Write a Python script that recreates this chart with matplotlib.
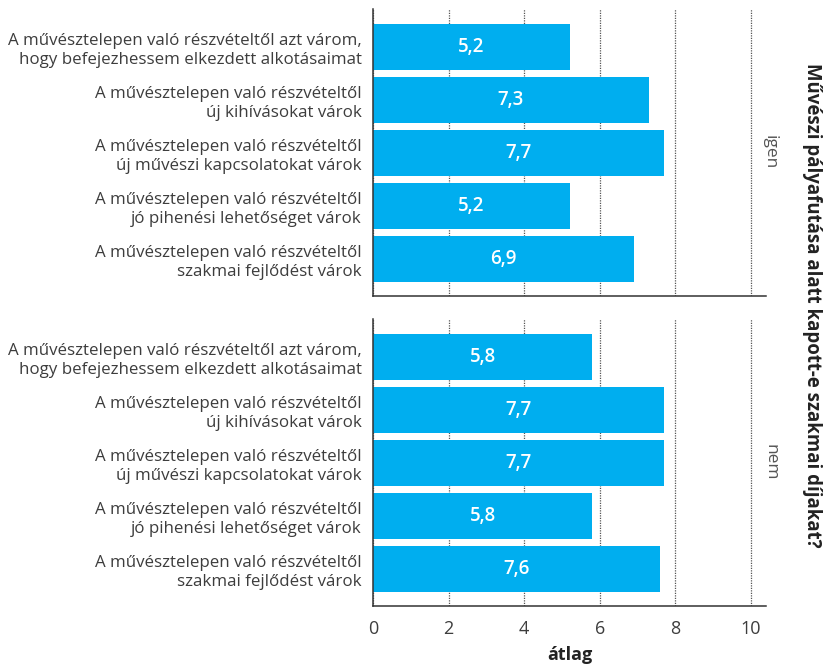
import matplotlib
matplotlib.use("Agg")
import matplotlib.pyplot as plt

categories = [
    "A művésztelepen való részvételtől azt várom,\nhogy befejezhessem elkezdett alkotásaimat",
    "A művésztelepen való részvételtől\núj kihívásokat várok",
    "A művésztelepen való részvételtől\núj művészi kapcsolatokat várok",
    "A művésztelepen való részvételtől\njó pihenési lehetőséget várok",
    "A művésztelepen való részvételtől\nszakmai fejlődést várok",
]
groups = ["igen", "nem"]
values_igen = [5.2, 7.3, 7.7, 5.2, 6.9]
values_nem = [5.8, 7.7, 7.7, 5.8, 7.6]
xticks = [0, 2, 4, 6, 8, 10]
xlabel = "átlag"
strip_title = "Művészi pályafutása alatt kapott-e szakmai díjakat?"

plt.rcParams['font.family'] = ['Open Sans', 'DejaVu Sans']
BAR = '#00AEEF'
TXT = '#3d3d3d'

W, H = 823, 666
fig = plt.figure(figsize=(W / 100, H / 100), dpi=100)

def rect(l, r, t, b):
    return [l / W, 1 - b / H, (r - l) / W, (b - t) / H]

panels = [(values_igen, 9, 296), (values_nem, 319, 606)]
axes = []
for i, (vals, top, bot) in enumerate(panels):
    ax = fig.add_axes(rect(373, 766, top, bot))
    ypos = list(range(len(categories)))
    ax.set_axisbelow(True)
    ax.xaxis.grid(True, linestyle=(0, (1, 1)), color='#555555', linewidth=0.9)
    ax.barh(ypos, vals, height=0.87, color=BAR, zorder=2)
    for y, v in zip(ypos, vals):
        ax.text(v / 2, y, f"{v:.1f}".replace('.', ','), ha='center', va='center',
                color='white', fontsize=13.5, fontweight='semibold', zorder=3)
    ax.set_xlim(0, 10.4)
    ax.set_ylim(len(categories) - 0.3, -0.72)
    ax.set_yticks(ypos)
    ax.set_yticklabels(categories, fontsize=12.2, color=TXT, ha='right',
                       multialignment='right', linespacing=1.22)
    ax.tick_params(axis='y', length=0, pad=8)
    ax.set_xticks(xticks)
    for s in ['top', 'right']:
        ax.spines[s].set_visible(False)
    ax.spines['left'].set_color('#333333')
    ax.spines['bottom'].set_color('#333333')
    ax.spines['left'].set_linewidth(1.1)
    ax.spines['bottom'].set_linewidth(1.1)
    if i == 0:
        ax.tick_params(axis='x', length=0, labelbottom=False)
    else:
        ax.tick_params(axis='x', length=0, labelsize=13, labelcolor=TXT, pad=10)
        ax.set_xlabel(xlabel, fontsize=13, fontweight='bold', color='#222222', labelpad=6)
    fig.text(770 / W, 1 - ((top + bot) / 2) / H, groups[i], rotation=-90,
             ha='center', va='center', fontsize=12.5, color='#555555')
    axes.append(ax)

fig.text(812 / W, 1 - 305 / H, strip_title, rotation=-90, ha='center', va='center',
         fontsize=13.4, fontweight='bold', color='#222222')

fig.savefig('out.png', dpi=100)
